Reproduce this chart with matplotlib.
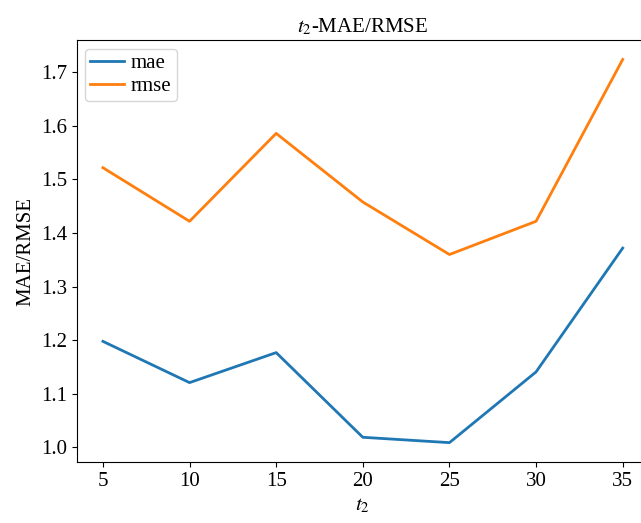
import matplotlib
matplotlib.use('Agg')
import matplotlib.pyplot as plt

# datos
t2 = [5, 10, 15, 20, 25, 30, 35]
mae = [1.198, 1.121, 1.177, 1.019, 1.009, 1.141, 1.372]
rmse = [1.522, 1.422, 1.586, 1.458, 1.360, 1.422, 1.724]

plt.rcParams['font.family'] = ['Liberation Serif', 'DejaVu Serif']
plt.rcParams['mathtext.fontset'] = 'stix'

fig = plt.figure(figsize=(6.41, 5.23), dpi=100)
ax = fig.add_axes([0.120, 0.117, 0.892, 0.806])
ax.plot(t2, mae, label='mae', lw=2)
ax.plot(t2, rmse, label='rmse', lw=2)
ax.set_xticks(t2)
ax.tick_params(labelsize=15)
ax.set_xlabel('$t_2$', fontsize=15)
ax.set_ylabel('MAE/RMSE', fontsize=15)
ax.set_title('$t_2$-MAE/RMSE', fontsize=15)
ax.legend(loc='upper left', fontsize=15, handlelength=1.6, handletextpad=0.35,
          labelspacing=0.15, borderpad=0.25, borderaxespad=0.4)
fig.savefig('out.png', dpi=100)
